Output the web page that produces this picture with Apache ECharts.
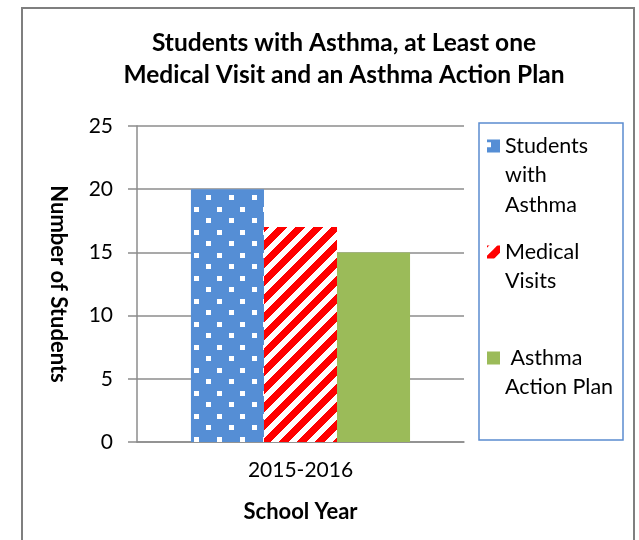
<!DOCTYPE html>
<html>
<head>
<meta charset="utf-8">
<script src="https://cdn.jsdelivr.net/npm/echarts@6/dist/echarts.min.js"></script>
<style>
html,body{margin:0;padding:0;background:#fff;}
#chart{width:639px;height:540px;}
</style>
</head>
<body>
<div id="chart"></div>
<script>
// ---- data ----
const categories = ['2015-2016'];
const seriesNames = ['Students with Asthma', 'Medical Visits', 'Asthma Action Plan'];
const studentsWithAsthma = [20];
const medicalVisits = [17];
const asthmaActionPlan = [15];
const legendLabels = ['Students\nwith\nAsthma', 'Medical\nVisits\n ', ' Asthma\nAction Plan\n '];
const yMin = 0, yMax = 25, yStep = 5;
const titleText = 'Students with Asthma, at Least one\nMedical Visit and an Asthma Action Plan';
const xName = 'School Year';
const yName = 'Number of Students';

// ---- patterns ----
function dotPattern() {
  const s = 23;
  const c = document.createElement('canvas');
  c.width = s; c.height = s;
  const g = c.getContext('2d');
  g.fillStyle = '#558ED5';
  g.fillRect(0, 0, s, s);
  g.fillStyle = '#FFFFFF';
  const pts = [[10, 0], [-1, 11]];
  pts.forEach(function (p) {
    for (let dx = -s; dx <= s; dx += s) {
      for (let dy = -s; dy <= s; dy += s) {
        g.fillRect(p[0] + dx, p[1] + dy, 5, 5);
      }
    }
  });
  return c;
}
function stripePattern() {
  const s = 18;
  const c = document.createElement('canvas');
  c.width = s; c.height = s;
  const g = c.getContext('2d');
  const img = g.createImageData(s, s);
  for (let y = 0; y < s; y++) {
    for (let x = 0; x < s; x++) {
      const i = (y * s + x) * 4;
      const red = ((x + y) % s) < 10;
      img.data[i] = 255;
      img.data[i + 1] = red ? 0 : 255;
      img.data[i + 2] = red ? 0 : 255;
      img.data[i + 3] = 255;
    }
  }
  g.putImageData(img, 0, 0);
  return c;
}

const FONT = 'Lato, "Open Sans", sans-serif';
const GREY = '#8c8c8c';
const LH = 29.5;
const ICON_W = 13, ICON_H = LH * 3;
const iconPath = 'path://M0,' + (LH / 2 - 6.5) + 'H' + ICON_W + 'V' + (LH / 2 + 6.5) + 'H0Z' +
  'M0,0L0.001,0M' + ICON_W + ',' + ICON_H + 'L' + (ICON_W - 0.001) + ',' + ICON_H;

const chart = echarts.init(document.getElementById('chart'), null, {renderer: 'canvas'});
const seriesData = [studentsWithAsthma, medicalVisits, asthmaActionPlan];
const seriesColors = [
  {image: dotPattern(), repeat: 'repeat'},
  {image: stripePattern(), repeat: 'repeat'},
  '#9BBB59'
];

chart.setOption({
  animation: false,
  backgroundColor: '#ffffff',
  title: {
    text: titleText,
    left: 344,
    top: 27,
    textAlign: 'center',
    padding: 0,
    textStyle: {fontFamily: FONT, fontSize: 24.5, fontWeight: 'bold', color: '#000', lineHeight: 32}
  },
  graphic: [{
    type: 'rect',
    z: -10,
    silent: true,
    shape: {x: 22, y: 8, width: 612, height: 600},
    style: {fill: 'none', stroke: '#7f7f7f', lineWidth: 2}
  }],
  legend: {
    orient: 'vertical',
    left: 479,
    top: 123,
    padding: [8.25, 4, 8.25, 8],
    itemGap: 17.5,
    itemWidth: ICON_W,
    itemHeight: ICON_H,
    selectedMode: false,
    borderColor: '#5B8CD0',
    borderWidth: 1.5,
    itemStyle: {borderWidth: 0},
    data: seriesNames.map(function (n) { return {name: n, icon: iconPath}; }),
    formatter: function (name) { return legendLabels[seriesNames.indexOf(name)]; },
    textStyle: {fontFamily: FONT, fontSize: 21.5, color: '#000', lineHeight: LH, width: 114}
  },
  grid: {left: 137, right: 175, top: 126, bottom: 98, containLabel: false},
  xAxis: {
    type: 'category',
    data: categories,
    name: xName,
    nameLocation: 'middle',
    nameGap: 59,
    nameTextStyle: {fontFamily: FONT, fontSize: 22, fontWeight: 'bold', color: '#000', lineHeight: 22},
    axisLine: {show: true, lineStyle: {color: GREY, width: 1.5}},
    axisTick: {show: false},
    axisLabel: {fontFamily: FONT, fontSize: 21, color: '#000', margin: 18, lineHeight: 21}
  },
  yAxis: {
    type: 'value',
    min: yMin,
    max: yMax,
    interval: yStep,
    name: yName,
    nameLocation: 'middle',
    nameRotate: -90,
    nameGap: 68,
    nameTextStyle: {fontFamily: FONT, fontSize: 22, fontWeight: 'bold', color: '#000'},
    axisLine: {show: true, lineStyle: {color: GREY, width: 1.5}},
    axisTick: {show: true, length: 9, lineStyle: {color: GREY, width: 1.5}},
    splitLine: {show: true, lineStyle: {color: GREY, width: 1.5}},
    axisLabel: {fontFamily: FONT, fontSize: 21, color: '#000', margin: 24}
  },
  series: seriesNames.map(function (n, i) {
    return {
      type: 'bar',
      name: n,
      data: seriesData[i],
      barGap: '0%',
      barCategoryGap: '33%',
      itemStyle: {color: seriesColors[i]},
      emphasis: {disabled: true},
      silent: true
    };
  })
});
</script>
</body>
</html>
